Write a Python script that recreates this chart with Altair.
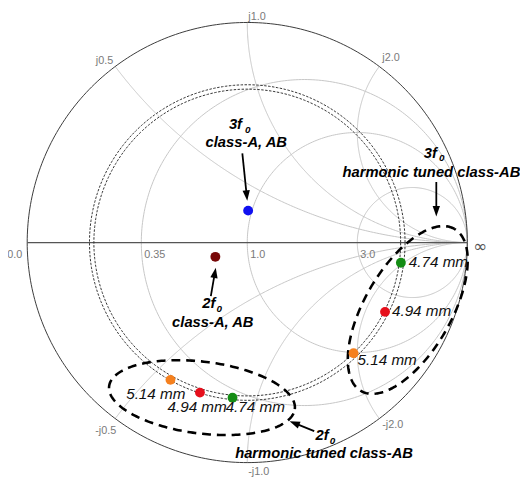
import numpy as np
import pandas as pd
import altair as alt

# ---------------- values ----------------
# Smith chart grid (normalised impedance)
r_circles = [0.35, 1.0, 3.0]
x_arcs = [0.5, 1.0, 2.0, -0.5, -1.0, -2.0]
r_tick_values = [0.0, 0.35, 1.0, 3.0]
r_tick_labels = ["0.0", "0.35", "1.0", "3.0"]
x_tick_values = [0.5, 1.0, 2.0, -0.5, -1.0, -2.0]
x_tick_labels = ["j0.5", "j1.0", "j2.0", "-j0.5", "-j1.0", "-j2.0"]

# constant |Gamma| circle pair (dotted double line)
gamma_radii = [0.697, 0.717]

# measured terminations, reflection coefficient (real, imaginary)
pt_names = ["3f0 class-A,AB", "2f0 class-A,AB",
            "2f0 5.14", "2f0 4.94", "2f0 4.74",
            "3f0 4.74", "3f0 4.94", "3f0 5.14"]
pt_re = [0.004, -0.145, -0.349, -0.215, -0.067, 0.698, 0.626, 0.483]
pt_im = [0.145, -0.065, -0.624, -0.682, -0.705, -0.092, -0.315, -0.503]
pt_text = ["", "", "5.14 mm", "4.94 mm", "4.74 mm", "4.74 mm", "4.94 mm", "5.14 mm"]

# ---------------- styles / layout ----------------
pt_colors = ["#1010f0", "#780808", "#f5801e", "#e6101c", "#148c14",
             "#148c14", "#e6101c", "#f5801e"]
# pixel offsets of the mm labels from their points
pt_text_dx = [0, 0, -45, -33, -7, 8, 7, 4]
pt_text_dy = [0, 0, 14, 15, 10, -1, -1, 7]

CX, CY, R = 251.0, 242.5, 223.5      # unit circle geometry in page pixels
W, H = 520, 474
X_DOM = [(8 - CX) / R, (8 + W - CX) / R]
Y_DOM = [(CY - 8 - H) / R, (CY - 8) / R]

FONT = "Liberation Sans"


def pg(px, py):
    """page pixel -> Gamma plane"""
    return (px - CX) / R, (CY - py) / R


def z2g(z):
    return (z - 1) / (z + 1)


xs = alt.X("x:Q", scale=alt.Scale(domain=X_DOM, nice=False, zero=False), axis=None)
ys = alt.Y("y:Q", scale=alt.Scale(domain=Y_DOM, nice=False, zero=False), axis=None)

# ---------------- grid ----------------
grid_rows = []
th = np.linspace(0, 2 * np.pi, 361)
for r in r_circles:
    c, rad = r / (1 + r), 1 / (1 + r)
    for i, t in enumerate(th):
        grid_rows.append(dict(id=f"r{r}", o=i, x=c + rad * np.cos(t), y=rad * np.sin(t)))
u = np.linspace(0, np.pi / 2 - 1e-4, 300)
for xv in x_arcs:
    s = abs(xv) * np.tan(u)
    G = z2g(s + 1j * xv)
    for i, g in enumerate(G):
        grid_rows.append(dict(id=f"x{xv}", o=i, x=g.real, y=g.imag))
grid_df = pd.DataFrame(grid_rows)

grid = alt.Chart(grid_df).mark_line(color="#c6c6c6", strokeWidth=1).encode(
    x=xs, y=ys, detail="id:N", order="o:Q")

outer_df = pd.DataFrame(dict(o=range(361), x=np.cos(th), y=np.sin(th)))
outer = alt.Chart(outer_df).mark_line(color="#3a3a3a", strokeWidth=1).encode(
    x=xs, y=ys, order="o:Q")

axis_df = pd.DataFrame(dict(x=[-1.0], x2=[1.0], y=[0.0]))
axis_line = alt.Chart(axis_df).mark_rule(color="#555555", strokeWidth=1.2).encode(
    x=xs, x2="x2:Q", y=ys)

# dotted constant |Gamma| circles
dot_rows = []
for k, rg in enumerate(gamma_radii):
    for i, t in enumerate(th):
        dot_rows.append(dict(id=k, o=i, x=rg * np.cos(t), y=rg * np.sin(t)))
dotted = alt.Chart(pd.DataFrame(dot_rows)).mark_line(
    color="#333333", strokeWidth=1, strokeDash=[2.5, 1.5]).encode(
    x=xs, y=ys, detail="id:N", order="o:Q")

# ---------------- dashed ellipses ----------------
ell_center_px = [(205, 400), (414, 311)]
ell_axes_px = [(95, 36.5), (95, 44)]
ell_rot = [-7, 60]
ell_rows = []
tt = np.linspace(0, 2 * np.pi, 241)
for k in range(2):
    cx, cy = pg(*ell_center_px[k])
    a, b = ell_axes_px[k][0] / R, ell_axes_px[k][1] / R
    ph = np.deg2rad(ell_rot[k])
    ex = cx + a * np.cos(tt) * np.cos(ph) - b * np.sin(tt) * np.sin(ph)
    ey = cy + a * np.cos(tt) * np.sin(ph) + b * np.sin(tt) * np.cos(ph)
    for i in range(len(tt)):
        ell_rows.append(dict(id=k, o=i, x=ex[i], y=ey[i]))
ellipses = alt.Chart(pd.DataFrame(ell_rows)).mark_line(
    color="black", strokeWidth=2.6, strokeDash=[9, 6]).encode(
    x=xs, y=ys, detail="id:N", order="o:Q")

# ---------------- points ----------------
pts_df = pd.DataFrame(dict(name=pt_names, x=pt_re, y=pt_im, col=pt_colors))
points = alt.Chart(pts_df).mark_circle(size=100, opacity=1).encode(
    x=xs, y=ys, color=alt.Color("col:N", scale=None))

lab_df = pd.DataFrame(dict(
    t=pt_text,
    x=[pt_re[i] + pt_text_dx[i] / R for i in range(len(pt_re))],
    y=[pt_im[i] - pt_text_dy[i] / R for i in range(len(pt_re))]))
lab_df = lab_df[lab_df.t != ""]
mm_labels = alt.Chart(lab_df).mark_text(
    align="left", baseline="middle", font=FONT, fontSize=15.5, fontStyle="italic",
    color="#111111").encode(x=xs, y=ys, text="t:N")

# ---------------- tick labels ----------------
tick_rows = []
for v, lab in zip(r_tick_values, r_tick_labels):
    g = z2g(complex(v, 0))
    if v == 0.0:
        tick_rows.append(dict(t=lab, x=g.real - 5 / R, y=-12.5 / R, al="right"))
    else:
        tick_rows.append(dict(t=lab, x=g.real + 3 / R, y=-12.5 / R, al="left"))
x_off = {0.5: (-2, -6, "right"), 1.0: (1, -6, "left"), 2.0: (3, -9, "left"),
         -0.5: (1, 13, "right"), -1.0: (1, 10, "left"), -2.0: (3, 7, "left")}
for v, lab in zip(x_tick_values, x_tick_labels):
    g = z2g(complex(0, v))
    dx, dy, al = x_off[v]
    tick_rows.append(dict(t=lab, x=g.real + dx / R, y=g.imag - dy / R, al=al))
tick_df = pd.DataFrame(tick_rows)
ticks_l = alt.Chart(tick_df[tick_df.al == "left"]).mark_text(
    align="left", baseline="middle", font=FONT, fontSize=11, color="#7a7a7a").encode(
    x=xs, y=ys, text="t:N")
ticks_r = alt.Chart(tick_df[tick_df.al == "right"]).mark_text(
    align="right", baseline="middle", font=FONT, fontSize=11, color="#7a7a7a").encode(
    x=xs, y=ys, text="t:N")
inf_df = pd.DataFrame(dict(t=["∞"], x=[1 + 6 / R], y=[-4.5 / R]))
inf_lab = alt.Chart(inf_df).mark_text(
    align="left", baseline="middle", font="DejaVu Sans", fontSize=17, color="#555555").encode(
    x=xs, y=ys, text="t:N")

# ---------------- annotations ----------------
ann_text = ["3f", "class-A, AB", "2f", "class-A, AB",
            "3f", "harmonic tuned class-AB", "2f", "harmonic tuned class-AB"]
ann_px = [(239, 122), (250, 140), (212, 304), (216, 323),
          (437, 152), (438, 171), (327, 438), (329, 456)]
sub_px = [(251.5, 128), (222.5, 310), (448.5, 157), (337.5, 444)]

ann_df = pd.DataFrame(dict(t=ann_text,
                           x=[pg(*p)[0] for p in ann_px],
                           y=[pg(*p)[1] for p in ann_px]))
ann = alt.Chart(ann_df).mark_text(
    align="center", baseline="middle", font=FONT, fontSize=15, fontStyle="italic",
    fontWeight="bold", color="black").encode(x=xs, y=ys, text="t:N")
sub_df = pd.DataFrame(dict(t=["0"] * 4,
                           x=[pg(*p)[0] for p in sub_px],
                           y=[pg(*p)[1] for p in sub_px]))
subs = alt.Chart(sub_df).mark_text(
    align="center", baseline="middle", font=FONT, fontSize=10, fontStyle="italic",
    fontWeight="bold", color="black").encode(x=xs, y=ys, text="t:N")

arrow_from = [(246, 152), (214, 297), (443, 181), (319, 434)]
arrow_to = [(251, 200), (219, 268), (443, 216), (294, 424)]
HEAD = 144  # symbol area, tip is sqrt(HEAD)/2 px from its centre
hs = np.sqrt(HEAD) / 2
sh_rows, hd_rows = [], []
for (x0, y0), (x1, y1) in zip(arrow_from, arrow_to):
    dx, dy = x1 - x0, y1 - y0
    L = np.hypot(dx, dy)
    ux, uy = dx / L, dy / L
    g0 = pg(x0, y0)
    gb = pg(x1 - ux * hs, y1 - uy * hs)
    sh_rows.append(dict(x=g0[0], y=g0[1], x2=gb[0], y2=gb[1]))
    ang = np.degrees(np.arctan2(dx, -dy)) % 360
    hd_rows.append(dict(x=gb[0], y=gb[1], a=ang))
shafts = alt.Chart(pd.DataFrame(sh_rows)).mark_rule(color="black", strokeWidth=1.8).encode(
    x=xs, y=ys, x2="x2:Q", y2="y2:Q")
heads = alt.Chart(pd.DataFrame(hd_rows)).mark_point(
    shape="M0,-1L0.62,0.75L-0.62,0.75Z", filled=True, size=HEAD, color="black", opacity=1).encode(
    x=xs, y=ys, angle=alt.Angle("a:Q", scale=None))

chart = alt.layer(
    grid, outer, axis_line, dotted, ellipses, points, mm_labels,
    ticks_l, ticks_r, inf_lab, ann, subs, shafts, heads
).properties(
    width=W, height=H, padding=0, autosize="none"
).configure_view(stroke=None)

chart.save("out.html", embed_options={"renderer": "svg", "actions": False})
